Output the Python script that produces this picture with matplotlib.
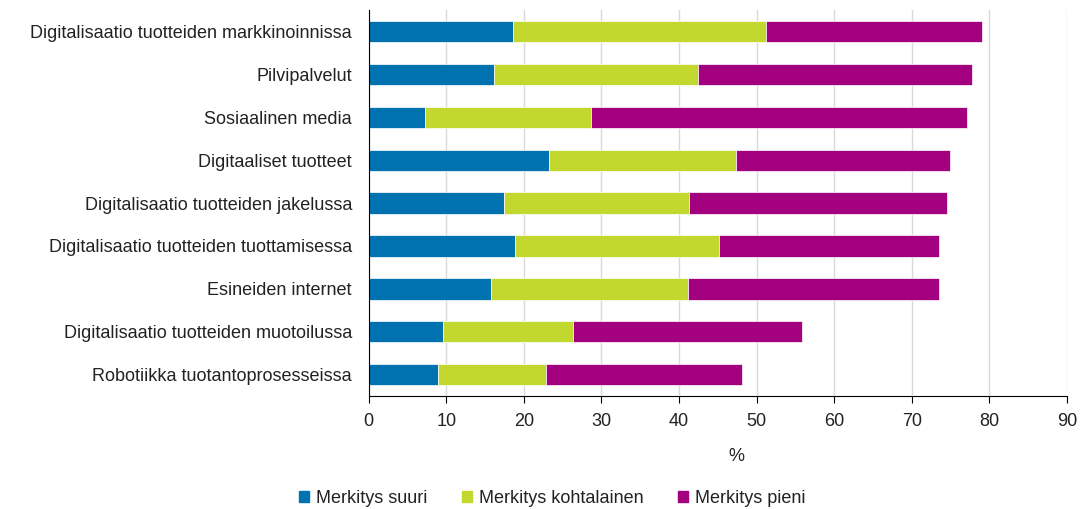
import numpy as np
import matplotlib
matplotlib.use("Agg")
import matplotlib.pyplot as plt
from matplotlib.patches import Patch

plt.rcParams['font.family'] = ['Liberation Sans', 'DejaVu Sans']

# --- data ---
categories = [
    "Digitalisaatio tuotteiden markkinoinnissa",
    "Pilvipalvelut",
    "Sosiaalinen media",
    "Digitaaliset tuotteet",
    "Digitalisaatio tuotteiden jakelussa",
    "Digitalisaatio tuotteiden tuottamisessa",
    "Esineiden internet",
    "Digitalisaatio tuotteiden muotoilussa",
    "Robotiikka tuotantoprosesseissa",
]
suuri = [18.6, 16.1, 7.3, 23.2, 17.4, 18.9, 15.8, 9.6, 9.0]
kohtalainen = [32.6, 26.4, 21.3, 24.1, 23.9, 26.3, 25.3, 16.7, 13.8]
pieni = [27.9, 35.3, 48.5, 27.6, 33.3, 28.3, 32.4, 29.5, 25.3]

series_names = ["Merkitys suuri", "Merkitys kohtalainen", "Merkitys pieni"]
colors = ["#0072B0", "#C2D82E", "#A3007F"]
xticks = [0, 10, 20, 30, 40, 50, 60, 70, 80, 90]

fs = 13

fig = plt.figure(figsize=(10.81, 5.09), dpi=100)
ax = fig.add_axes([0.341, 0.222, 0.646, 0.758])

y = np.arange(len(categories))
left = np.zeros(len(categories))
for vals, c in zip([suuri, kohtalainen, pieni], colors):
    ax.barh(y, vals, left=left, height=0.5, color=c, edgecolor="white", linewidth=0.5, zorder=3)
    left += np.array(vals)

ax.set_ylim(len(categories) - 0.5, -0.5)
ax.set_yticks(y)
ax.set_yticklabels(categories, fontsize=fs, color="#222222")
ax.set_xlim(0, 90)
ax.set_xticks(xticks)
ax.set_xticklabels([str(t) for t in xticks], fontsize=fs, color="#222222")
ax.set_xlabel("%", fontsize=fs, color="#222222")
ax.xaxis.set_label_coords(0.527, -0.135)

ax.grid(axis="x", color="#d9d9d9", linewidth=1, zorder=0)
ax.spines["top"].set_visible(False)
ax.spines["right"].set_visible(False)
for s in ("left", "bottom"):
    ax.spines[s].set_color("black")
    ax.spines[s].set_zorder(5)
ax.tick_params(axis="y", length=0, pad=12)
ax.tick_params(axis="x", length=5, color="black", pad=7)

handles = [Patch(color=c, label=n) for n, c in zip(series_names, colors)]
leg = fig.legend(handles=handles, loc="center", bbox_to_anchor=(0.511, 0.02), ncol=3,
                 frameon=False, fontsize=fs, handlelength=0.55, handleheight=0.55,
                 handletextpad=0.4, columnspacing=1.9)
for t in leg.get_texts():
    t.set_color("#222222")

fig.savefig("out.png", dpi=100)
